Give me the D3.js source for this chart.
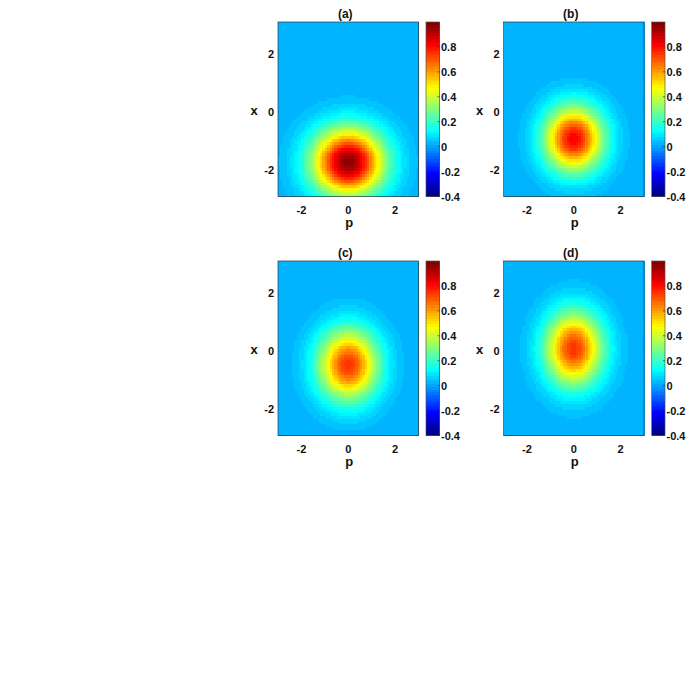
<!DOCTYPE html>
<html>
<head>
<meta charset="utf-8">
<script src="https://cdn.jsdelivr.net/npm/d3@7"></script>
<style>
  html, body { margin: 0; padding: 0; background: #fff; }
  svg { display: block; }
  text { font-family: "Liberation Sans Narrow", "Arial Narrow", "Liberation Sans", sans-serif; fill: #111; }
</style>
</head>
<body>
<svg id="chart" width="692" height="692"></svg>
<script>
// ---- data ----
const panelLabels = ["(a)", "(b)", "(c)", "(d)"];
const peakValues  = [0.97, 0.82, 0.75, 0.75];
const baseValues  = [0.02, 0.02, 0.02, 0.02];
const centerP     = [0, 0, 0, 0];
const centerX     = [-1.8, -1.0, -0.55, 0.0];
const sigmaP      = [1.05, 0.86, 0.88, 0.84];
const sigmaX      = [0.80, 0.77, 0.84, 0.87];
const axisDomain  = [-3, 3];
const axisTicks   = [-2, 0, 2];
const axisTickLabels = ["-2", "0", "2"];
const colorDomain = [-0.4, 1.0];
const colorbarTicks = [-0.4, -0.2, 0, 0.2, 0.4, 0.6, 0.8];
const colorbarTickLabels = ["-0.4", "-0.2", "0", "0.2", "0.4", "0.6", "0.8"];
const xLabel = "p", yLabel = "x";

// ---- layout ----
const colLeft = [278, 503.5];
const rowTop = [22, 261];
const plotW = 140.5, plotH = 174.5;
const cbOffset = 148, cbW = 13.5;
const gridStep = 0.1;
const nLevels = 64;

function jet(t) {
  const c = v => Math.max(0, Math.min(1, v));
  const r = c(1.5 - Math.abs(4 * t - 3));
  const g = c(1.5 - Math.abs(4 * t - 2));
  const b = c(1.5 - Math.abs(4 * t - 1));
  return d3.rgb(r * 255, g * 255, b * 255).toString();
}
const levelColors = d3.range(nLevels).map(i => jet(i / (nLevels - 1)));
const color = d3.scaleQuantize().domain(colorDomain).range(levelColors);

const svg = d3.select("#chart");

const cells = [];
const nCells = Math.round((axisDomain[1] - axisDomain[0]) / gridStep);
for (let i = 0; i < nCells; i++) for (let j = 0; j < nCells; j++) {
  cells.push({p0: axisDomain[0] + i * gridStep, x0: axisDomain[0] + j * gridStep});
}

panelLabels.forEach((lab, k) => {
  const left = colLeft[k % 2], top = rowTop[Math.floor(k / 2)];
  const sx = d3.scaleLinear().domain(axisDomain).range([left, left + plotW]);
  const sy = d3.scaleLinear().domain(axisDomain).range([top + plotH, top]);
  const g = svg.append("g");

  const val = (p, x) => baseValues[k] + (peakValues[k] - baseValues[k]) * Math.exp(
    -((p - centerP[k]) ** 2) / (2 * sigmaP[k] ** 2)
    - ((x - centerX[k]) ** 2) / (2 * sigmaX[k] ** 2));

  g.append("g").selectAll("rect").data(cells).join("rect")
    .attr("x", d => sx(d.p0))
    .attr("y", d => sy(d.x0 + gridStep))
    .attr("width", sx(gridStep) - sx(0) + 0.6)
    .attr("height", sy(0) - sy(gridStep) + 0.6)
    .attr("fill", d => color(val(d.p0 + gridStep / 2, d.x0 + gridStep / 2)))
    .attr("shape-rendering", "crispEdges");

  g.append("rect")
    .attr("x", left).attr("y", top).attr("width", plotW).attr("height", plotH)
    .attr("fill", "none").attr("stroke", "#333").attr("stroke-width", 0.7);

  // tick labels
  g.append("g").selectAll("text").data(axisTicks).join("text")
    .attr("x", d => sx(d)).attr("y", top + plotH + 17.5)
    .attr("text-anchor", "middle").attr("font-size", 11).attr("font-weight", "bold")
    .text((d, i) => axisTickLabels[i]);
  g.append("g").selectAll("text").data(axisTicks).join("text")
    .attr("x", left - 4).attr("y", d => sy(d) + 6.5)
    .attr("text-anchor", "end").attr("font-size", 11).attr("font-weight", "bold")
    .text((d, i) => axisTickLabels[i]);

  g.append("text").attr("x", sx(0) + 1).attr("y", top + plotH + 30.5)
    .attr("text-anchor", "middle").attr("font-size", 13).attr("font-weight", "bold").text(xLabel);
  g.append("text").attr("x", left - 24).attr("y", sy(0) + 5.5)
    .attr("text-anchor", "middle").attr("font-size", 13).attr("font-weight", "bold").text(yLabel);
  g.append("text").attr("x", sx(0) - 3).attr("y", top - 4)
    .attr("text-anchor", "middle").attr("font-size", 12).attr("font-weight", "bold").text(lab);

  // colorbar
  const cbx = left + cbOffset;
  const cs = d3.scaleLinear().domain(colorDomain).range([top + plotH, top]);
  const step = (colorDomain[1] - colorDomain[0]) / nLevels;
  g.append("g").selectAll("rect").data(levelColors).join("rect")
    .attr("x", cbx)
    .attr("y", (d, i) => cs(colorDomain[0] + (i + 1) * step))
    .attr("width", cbW)
    .attr("height", cs(0) - cs(step) + 0.5)
    .attr("fill", d => d)
    .attr("shape-rendering", "crispEdges");
  g.append("rect").attr("x", cbx).attr("y", top).attr("width", cbW).attr("height", plotH)
    .attr("fill", "none").attr("stroke", "#555").attr("stroke-width", 0.7);
  g.append("g").selectAll("line").data(colorbarTicks).join("line")
    .attr("x1", cbx + cbW - 2).attr("x2", cbx + cbW)
    .attr("y1", d => cs(d)).attr("y2", d => cs(d))
    .attr("stroke", "#333").attr("stroke-width", 0.7);
  g.append("g").selectAll("text").data(colorbarTicks).join("text")
    .attr("x", cbx + cbW + 1.5).attr("y", d => cs(d) + 4)
    .attr("text-anchor", "start").attr("font-size", 11).attr("font-weight", "bold")
    .text((d, i) => colorbarTickLabels[i]);
});
</script>
</body>
</html>
